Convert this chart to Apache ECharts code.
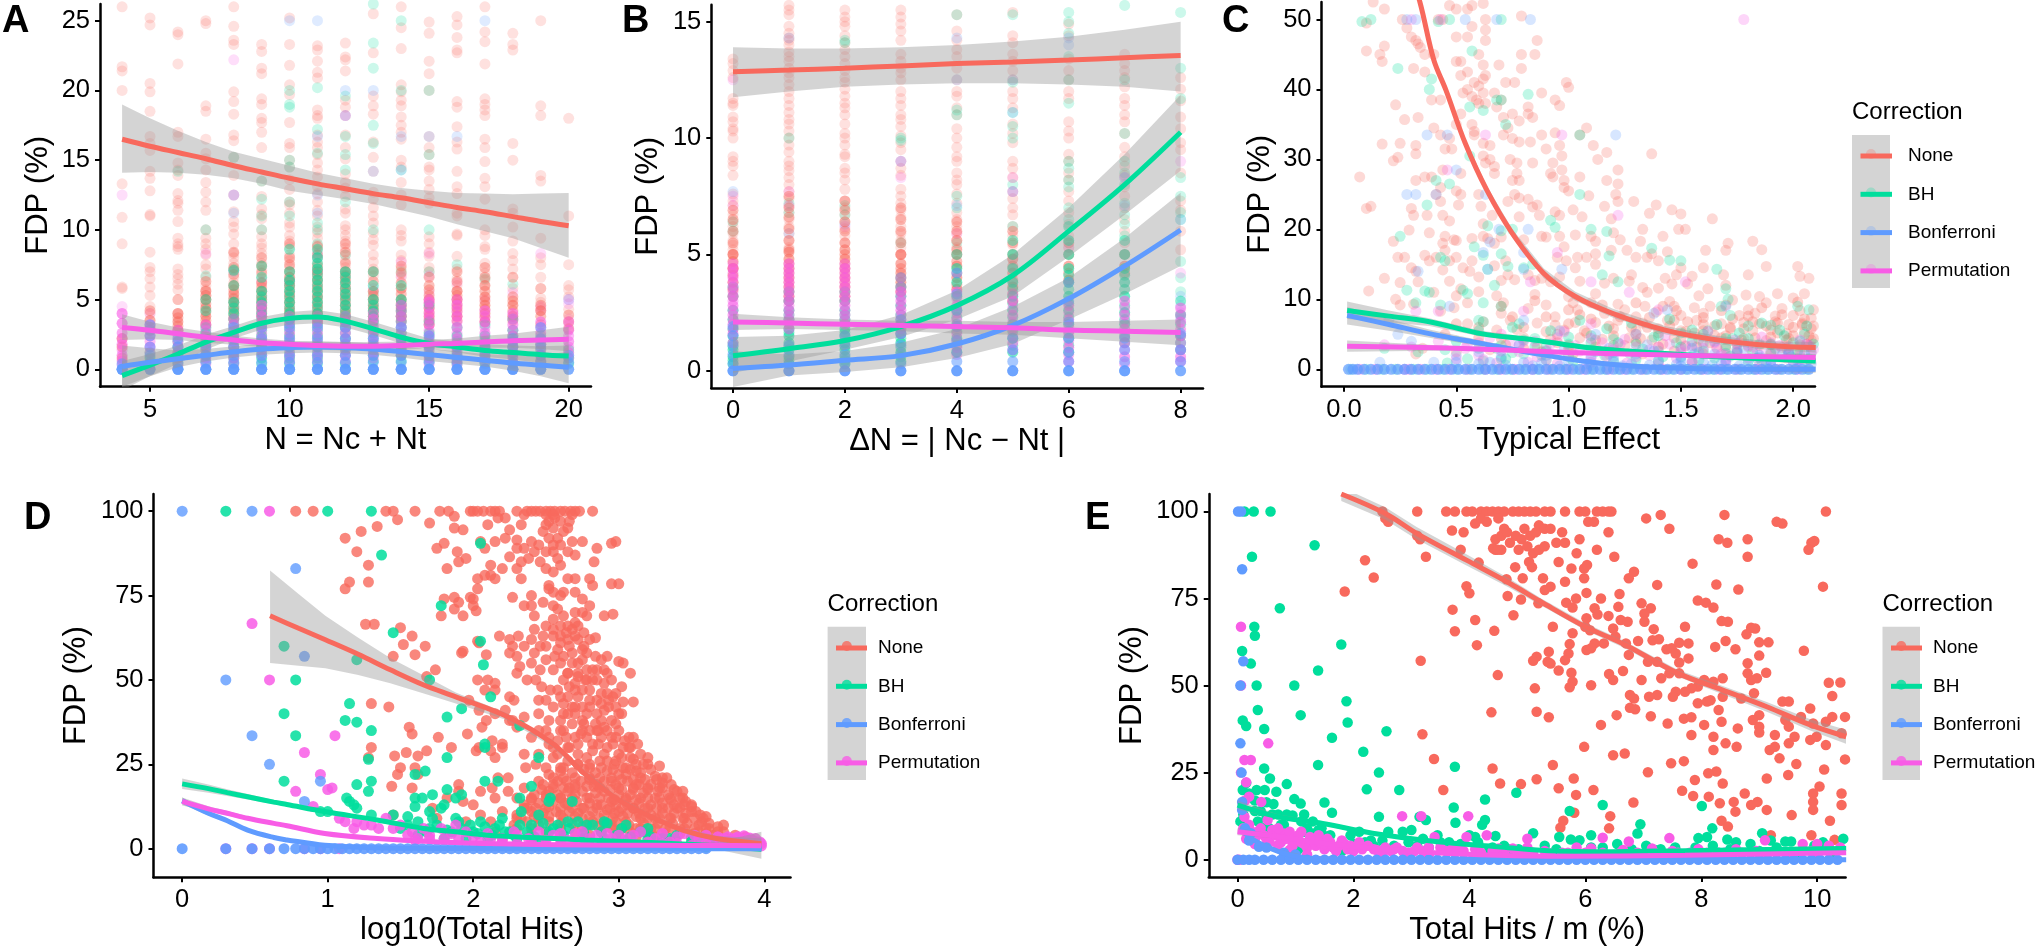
<!DOCTYPE html>
<html><head><meta charset="utf-8">
<style>html,body{margin:0;padding:0;background:#fff}#c{width:2040px;height:951px}</style>
<script src="https://cdn.jsdelivr.net/npm/echarts@6/dist/echarts.min.js"></script></head>
<body><div id="c"></div>
<script>
const methods=['None','BH','Bonferroni','Permutation'];
const colors=['#F8695D','#00DE9C','#5F9BFF','#F85CE6'];
// ---------- Panel A : columns N = 4..20
const aX=[4,5,6,7,8,9,10,11,12,13,14,15,16,17,18,19,20];
const aNoneSparse=[[26,21.7,21.4,20,13.3,10.9,9,5.9,5.8],[25.2,24.7,20.5,19.9,18.5,16.7,16.2,15.7,14.2,13.7,12.8,11.1,11,8.4,7.3,7,6.5,5.9,5.3,4.5,4],[24.2,24,21.9,17,16.7,14.8,14.3,13.9,12.6,12.1,11.9,11.4,10.6,9.4,9,8.8,8.6,7.2,6.8,6.5,6.1,5.7,4],[25,24.8,18.9,18.5,16.5,15.5,15.1,14.3,13.4,12.7,12,11.4,10,9.4,9,8.6,8.2,7.5,7.2,6.6,6,5.7,5.3],[26,24.6,23.6,23.3,19.9,19.2,18.3,16.8,16.4,15.2,13.9,12.5,11.3,10.6,10.2,9.7,9,8.3,8,7.6,7.1,6.6,6.2],[23.3,22.8,21.6,21.2,19.4,19,18,17.7,17,15.9,13.5,12.4,11.5,11.1,10.8,10,9.5,9,8.7,8.3,7.6,7.1,6.5],[25.2,23.3,21.8,20.4,19.7,17.7,16.2,15.9,15,14.5,13.6,12.9,12,11.8,11.2,10.5,10.2,9.6,9.2,8.8,8.2,7.8,7.3],[23.2,22.9,22.1,21.3,20.9,18.6,18.2,18,16.8,16.3,15.9,15.4,14.8,14.3,13.8,13.1,12.6,12,11.4,11,10.2,9.8,9.4,8.9,8.5,8,7.6,7.2],[23.4,22.4,22.2,21.4,19.3,18.8,18.2,16.8,15.9,15.1,14,13.4,13,12.4,11.5,11.2,10.3,10,9.6,9.2,8.7,8.2,7.8,7.3],[25.5,22.7,19.6,18.9,18.3,16.3,15.2,14.2,12.7,12.2,11.6,11,10.5,9.8,9.3,8.9,8.2,7.7,7.2,6.7],[26,24.5,23,20.4,19.9,19.3,18.9,18.1,17.5,17,16.5,15,14.5,13.4,12.5,11.8,10,9.6,9.2,8.2,7.8,7.2,6.6],[24.9,24.1,22.1,21.2,20,16.7,15.9,15.4,14.5,14.3,13.5,12.9,12.3,11.9,9.5,9,8.4,8.1,7.3,7],[25.3,24.7,23.8,22.9,22.7,19.2,18.8,17.4,16.3,15.8,14.2,13.1,12.6,11.2,11,9.7,9.6,8.1,7.2,6.5,6,5.6],[26,24.2,23.5,21.9,19.4,19,18.6,18.2,16.5,15.9,14.9,13.7,13.1,12.2,10,9.6,8.8,8.6,7.6,6.9,6.4],[24.1,23.3,22.9,16.2,15,11.5,11.2,10.2,9.2,8.3,7.8,7.2,5.8],[25,18.9,18.2,13.9,13.5,9.4,8,7.5,6.6,5.1,4.8,4.4],[18,11,7.5,6,5.7,5.2,4.3]];
const aBhSparse=[[],[],[14.2],[10,6.7],[15.2,7.2,5],[13.5,12.2,11,10],[20,19,18.8,15,14.5,12,11,7,6.3],[20.2,17.2,15.5,10.5,10,9],[19.6,16.7,15.4,14.3,12,8.2,6.8],[26.2,23.4,21.6,17.5,16.2,10,5.5],[25,20,14.3,7],[20,15.4,10,7],[7.5],[6.5],[6.1],[],[]];
const aBonfSparse=[[],[],[],[],[12.5,11.2,7],[],[25,6.3],[25,16.7,12.5,11.2,8.3],[20,18.2],[20,14.2],[16.7,14.3],[16.7],[16.7],[25],[],[],[5]];
const aPermSparse=[[12.5,4.5,4,3.3],[4],[],[8.3],[22.2,12.5],[6.3],[],[8,7],[18.2],[5.8],[7.7,6.7],[8.3,6.7,5.5],[6.2,5],[5],[5.5],[8.3,4.5,4.2],[5,4.7,3.6,3.2]];
const aNoneDense=[[2.2,1.6,.8],[3.5,2.8],[4,3.4,2.8],[5.6,5,4.4,3.8,3.2],[6,5.4,4.8,4.2,3.6],[6.2,5.6,5,4.4,3.8],[6.6,6,5.4,4.8,4.2,3.6],[7,6.4,5.8,5.2,4.6,4,3.4],[7,6.4,5.8,5.2,4.6,4,3.4],[5.6,5,4.4,3.8],[5.8,5,4.4,3.8],[5,4.4,3.8,3.2],[5.6,5,4.4,3.8],[6,5.2,4.6,4,3.4],[4.6,3.8],[4.2],[]];
const aNoneFill=[[],[4.2,3],[5,3.7,3.1],[6.3,5.3,4.7,4.1,3.5],[8.4,7.3,6.8,5.7,5.1,4.5,3.9],[8,7.4,6.9,5.9,5.3,4.7,4.1],[9,8,7.5,7,6.3,5.7,5.1,4.5,3.9],[8.8,8.2,7.4,6.7,6.1,5.5,4.9,4.3,3.7],[9,8.4,7.6,6.7,6.1,5.5,4.9,4.3,3.7],[7,6.3,5.3,4.7,4.1,3.5],[7.4,6.9,6.2,5.4,4.7,4.1,3.5],[6.6,6,5.7,5.3,4.7,4.1,3.5],[7,6.3,5.3,4.7,4.1,3.5],[7.3,6.6,5.6,4.9,4.3,3.7],[6.6,5.2,4.9,4.2,3.5],[5.8,4.6,3.8,3.2],[3.9,3.4,2.9]];
const aBhDense=[[],[.8],[1.6,.8],[2.6,1.8,1],[4.8,4,3.2,2.4,1.6,.8],[5.6,4.8,4,3.2,2.4,1.6,.8],[6.4,5.6,4.8,4,3.2,2.4,1.6,.8],[8,7.2,6.4,5.6,4.8,4,3.2,2.4,1.6,.8],[7,6.2,5.4,4.6,3.8,3,2.2,1.4],[5,4.2,3.4,2.6,1.8,1],[5,4.2,3.4,2.6,1.8,1],[2.6,1.8,1],[2.4,1.6,.8],[2.4,1.6,.8],[2.8,2,1.2],[1.8,1],[.8]];
const aBhFill=[[],[.4,1.2],[1.2,.4,2],[2.2,1.4,.6,3,4.2,5],[4.4,3.6,2.8,2,1.2,.4,6,7.1],[5.2,4.4,3.6,2.8,2,1.2,.4,6.6,7.4],[6,5.2,4.4,3.6,2.8,2,1.2,.4,7,8.6],[7.6,6.8,6,5.2,4.4,3.6,2.8,2,1.2,.4,8.6],[6.6,5.8,5,4.2,3.4,2.6,1.8,1,.4],[4.6,3.8,3,2.2,1.4,.6,6,7],[4.6,3.8,3,2.2,1.4,.6,6],[2.2,1.4,.6,3.4,4.6],[2,1.2,.4,3],[2,1.2,.4,3.2],[2.4,1.6,.4,3.6],[1.4,.6,2.4],[.4,1.4]];
const aPermDense=[[4,3.3,2.6,1.8,1,.6],[3.2,2.4,1.6],[2.8,2,1.2],[3.2,2.4,1.6,.8],[3.2,2.4,1.6,.8],[4.6,3.8,3,2.2,1.4],[3.4,2.6,1.8,1],[3.4,2.6,1.8,1],[3.4,2.6,1.8,1],[3.6,2.8,2,1.2],[4.6,3.8,3,2.2,1.4],[4.8,4,3.2,2.4,1.6,.8],[4.6,3.8,3,2.2,1.4,.6],[4.2,3.4,2.6,1.8,1],[4,3.2,2.4,1.6,.8],[3.4,2.6,1.8,1],[2.8,2,1.2]];
const aPermFill=[[2.2,1.4,.3],[2.8,2,1.2,.4],[2.4,1.6,.8,.3],[2.8,2,1.2,.4],[2.8,2,1.2,.4,3.6],[4.2,3.4,2.6,1.8,1],[3,2.2,1.4,.6,3.8],[3,2.2,1.4,.6,3.8],[3,2.2,1.4,.6,3.8],[3.2,2.4,1.6,.8,4],[4.2,3.4,2.6,1.8,1],[4.4,3.6,2.8,2,1.2,.4,5],[4.2,3.4,2.6,1.8,1,.3,5],[3.8,3,2.2,1.4,.6],[3.6,2.8,2,1.2,.4],[3,2.2,1.4,.6],[2.4,1.6,.8,3.4]];
const aBonfDense=[[0,0,0,0,.4],[0,0,0,.5,1,1.6,2.4,3.2],[0,0,0,0,.5,1,1.6,2.2],[0,0,0,0,.5,1,1.6],[0,0,0,0,.5,1,1.6,2.2,3],[0,0,0,0,.5,1,1.6,2.2,3],[0,0,0,0,.5,1,1.6,2.2,3,3.6],[0,0,0,0,.5,1,1.6,2.2,3],[0,0,0,0,.5,1,1.6,2.2,3],[0,0,0,0,.5,1,1.6,2.2],[0,0,0,0,.5,1,1.6,2.2,3],[0,0,0,0,.5,1,1.6,2.4],[0,0,0,0,.5,1,1.6],[0,0,0,0,.5,1,1.6],[0,0,0,0,.5,1,1.6,2.2],[0,0,0,.5,1,1.6,2.2,3],[0,0,.5,1]];
const aLineX=[4,5,6,7,8,9,10,11,12,13,14,15,16,17,18,19,20];
const aNoneL=[16.5,16,15.55,15.1,14.6,14.15,13.7,13.3,12.95,12.6,12.3,11.95,11.6,11.3,10.95,10.6,10.3];
const aNoneHi=[19,18,17.1,16.3,15.6,15.1,14.6,14.1,13.7,13.3,13,12.8,12.65,12.6,12.55,12.6,12.65];
const aNoneLo=[14.1,14.15,14.1,13.95,13.7,13.3,12.8,12.5,12.2,11.85,11.4,10.95,10.4,9.9,9.4,8.7,8];
const aBhL=[-.45,.3,1.1,1.95,2.65,3.3,3.65,3.75,3.45,2.9,2.3,1.85,1.6,1.35,1.2,1.05,.95];
const aBhHi=[.6,1.1,1.7,2.5,3.1,3.75,4.1,4.25,3.95,3.4,2.8,2.2,2,1.8,1.7,1.65,1.7];
const aBhLo=[-1.5,-.5,.4,1.4,2.2,2.85,3.2,3.3,3,2.45,1.85,1.45,1.2,.9,.7,.45,.2];
const aBfL=[.2,.5,.75,1,1.25,1.45,1.55,1.6,1.55,1.45,1.25,1.05,.85,.65,.45,.3,.15];
const aBfHi=[1.7,1.5,1.35,1.45,1.65,1.85,1.95,2,1.95,1.85,1.65,1.45,1.3,1.1,1,1,1.25];
const aBfLo=[-1.25,-.5,.15,.55,.85,1.05,1.15,1.2,1.15,1.05,.85,.6,.4,.2,-.1,-.5,-1];
const aPmL=[3,2.8,2.55,2.3,2.1,1.9,1.8,1.7,1.65,1.65,1.7,1.8,1.85,1.95,2.05,2.1,2.15];
const aPmHi=[3.95,3.4,3,2.7,2.4,2.2,2.05,2,1.95,1.95,2,2.1,2.2,2.4,2.55,2.8,3.05];
const aPmLo=[2.1,2.15,2.1,1.9,1.75,1.6,1.5,1.4,1.35,1.35,1.4,1.5,1.5,1.55,1.55,1.45,1.3];
// ---------- Panel B : columns dN = 0..8
const bX=[0,1,2,3,4,5,6,7,8];
const bNoneSparse=[[13.4,13.2,12.9,12.6,11.7,11.5,11.4,10.9,10.7,10.4,10.3,10,9.2,9,8.8,8.4,7.6,7.3,7.1,6.7,6.4,6.2,5.9,5.6,5.4,5.2],[15.7,15.5,15.3,14.8,14.5,14.3,14.2,14,13.7,13.5,13.3,13,12.8,12.6,12.3,12,11.7,11.4,11.1,10.8,10.6,10.3,10,9.7,9.4,9,8.8,8.6,8.3,8,7.7,7.4,7.1,6.8,6.5,6.2,5.9,5.6,5.3],[15.8,15.5,15.2,15,14.8,14.4,14.1,13.8,13.5,13.2,12.9,12.6,12.4,12.1,11.8,11.5,11.3,11,10.6,10.2,10,9.7,9.3,9.2,8.7,8.5,8.2,7.8,7.3,7,6.7,6.4,6.1,5.8,5.5],[15.8,15.5,15.2,14.9,14.6,14.2,13.6,13.3,13,12.8,12.5,12,11.7,11.4,11,10.8,10.5,10.1,9.8,9.5,9,8.7,8.4,7.8,7.5,7.2,6.9,6.6,6.2,5.9,5.6,5.3],[15.8,15.3,14.6,14.2,13.8,13.5,13,12.5,12,11.8,11.3,11,10.4,10,9.6,9.2,9,8.5,8.2,8,7.6,7.2,6.8,6.5,6.2,5.9,5.6,5.3],[15.8,15.4,14.4,14.1,13.6,13.3,12.9,12.5,12,11.7,11.3,10.6,10.2,9.8,9,8.7,8.3,7.7,7.4,7,6.7,6.2,5.8,5.4],[15.8,14.9,14.4,13.4,12.9,12.5,12,11.7,10.7,10.3,10,9.3,9,8.5,8.2,7.7,7.3,6.8,6.3,5.8,5.3],[13.6,13.2,12.9,12.6,12.2,11.7,11.4,11,10.7,10.2,9.6,9.2,8.8,8.4,7.9,7.5,7,6.5,6,5.5],[12.6,12.1,11.6,10.9,10.4,9.8,9.5,8.5,7.3,6.9,6,5.2]];
const bBhSparse=[[6.4,6],[10,7.2,6.8],[14.2,14.1,7.1,6.7],[10,9.9,5.5],[15.3,11.2,11,7.5,7,5.5],[15.3,12.4,11.1,10.5,10,8,6.2],[15.4,15,14.5,13.5,12.5,11.5,9,8.7,8.2,7.9,7,6.5],[15.7,12.5,10.2,9,8.5,8,7.2,6.7,6.3,5.8],[15.4,13,11.7,8.3,7.5,6.8,6.5,4.7,4,3.4]];
const bBonfSparse=[[7.7],[14.3,5.9],[6.3],[9],[14.3,12.5,7.1],[12.5,11.1,7.7],[14.3,14],[8.3,7.1],[6.5,3.2,2.8,2.2,1.2,.9]];
const bPermSparse=[[12.5,7.5,7.1],[7.7,7.1],[6.2],[9,8.3],[5.9],[8.3,7.7],[5.3],[8.3],[9,4.2,2.5,2.3,1.7,.6]];
const bNoneDense=[[5,4.7,4.4,4.1,3.8,3.5],[5.1,4.8,4.4,4,3.6,3.2],[5.2,4.8,4.4,4,3.6,3.2],[5,4.6,4.2,3.8,3.4],[5,4.5,4,3.5],[4.8,4.2,3.6,3],[4.5,3.9],[4.5],[]];
const bNoneFill=[[6.9,6.5,6,5.5,5,4.4,3.2],[7.5,7,6.6,6.1,5.6,5.2,4.6,4.2,3.8,3.4,3],[7.3,6.9,6.4,6,5.5,5,4.6,4.2,3.8,3.4,3],[7,6.5,6,5.5,5,4.4,4,3.6],[6.4,6,5.6,5.2,4.7,4.2,3.7],[6,5.5,5,4.5,3.9,3.3],[5.5,5,4.2],[5,4.2],[]];
const bBhDense=[[2.6,2.2,1.8,1.5,1.2,.9,.6,.3],[3,2.6,2.2,1.8,1.5,1.2,.9,.6,.3],[3,2.6,2.2,1.8,1.5,1.2,.9,.6,.3],[3.6,3.2,2.8,2.4,2,1.6,1.2,.8,.4],[4.4,3.8,3.2,2.6,2,1.4,.8],[5,4.4,3.8,3.2,2.6,2,1.4,.8],[5.6,5,4.4,3.8,3.2,2.6,2,1.4,.8],[5,4.4,3.8,3.2,2.5,2,1.2],[2.4,1.5]];
const bBhFill=[[3.6,3.2,.45,1.05],[3.4,.45,1.05,1.65,2.4],[3.4,.45,1.05,1.65,2.4],[4,.6,1,1.4,1.8],[5,1.1,1.7,2.3],[5.6,1.1,1.7,2.3,2.9,3.5],[6.2,1.1,1.7,2.3,2.9,3.5,4.1],[5.6,1.5,2.2,2.8,3.5,4.1],[.9,1.2,2,3]];
const bPermDense=[[4.4,4,3.6,3.2,2.8,2.4,2,1.6,1.2],[4.6,4.2,3.8,3.4,3,2.6,2.2,1.8],[4.4,4,3.6,3.2,2.8,2.4,2],[3.4,3,2.6,2.2,1.8],[3.4,2.8,2.2,1.6,1],[3,2.4,1.8,1.2],[2.8,2.2,1.6,1,.4],[3,2.4,1.8,1.2,.6],[2.7,2.1,1.5,.9,.4]];
const bPermFill=[[4.6,4.2,3.8,3.4,3,2.6,2.2,1.8],[4.4,4,3.6,3.2,2.8,2.4,2],[4.6,4.2,3.8,3.4,3,2.6,2.2],[4,3.6,3.2,2.8,2.4,2,1.6],[3.1,2.5,1.9,1.3,.7],[3.3,2.7,2.1,1.5,.9],[2.5,1.9,1.3,.7],[2.7,2.1,1.5,.9,.3],[2.4,1.8,1.2,.6]];
const bBonfDense=[[0,0,0,.3,.7,1.1,1.5,1.9],[0,0,0,.3,.7,1.1],[0,0,0,.3,.7,1.1,1.5],[0,0,0,.3,.7,1.1,1.6,2.2],[0,0,0,.4,.8,1.3,1.9,2.6,3.3,4.2],[0,0,0,.4,.9,1.4],[0,0,0,.4,.8,1.4,2.1,3,3.8],[0,0,0,.4,.9,1.4],[0,0,.4,.9,1.6]];
const bLineX=[0,1,2,3,4,5,6,7,8];
const bNoneL=[12.85,12.92,13,13.1,13.2,13.27,13.35,13.45,13.55];
const bNoneHi=[13.9,13.85,13.85,13.9,14,14.15,14.35,14.65,15];
const bNoneLo=[11.75,12,12.2,12.3,12.35,12.35,12.3,12.2,12];
const bBhL=[.65,.95,1.3,1.9,2.8,4.1,6,8,10.25];
const bBhHi=[1.45,1.5,1.75,2.4,3.45,5,7,9.3,11.85];
const bBhLo=[-.1,.4,.9,1.45,2.2,3.2,4.9,6.7,8.6];
const bBfL=[.1,.25,.45,.65,1.15,1.95,3.1,4.5,6.05];
const bBfHi=[.85,.7,.85,1.2,1.8,2.75,4,5.7,7.65];
const bBfLo=[-.7,-.2,-.05,.15,.55,1.15,2.2,3.3,4.5];
const bPmL=[2.1,2.05,2,1.95,1.9,1.85,1.75,1.7,1.65];
const bPmHi=[2.45,2.3,2.2,2.15,2.15,2.1,2.1,2.15,2.2];
const bPmLo=[1.75,1.8,1.75,1.7,1.6,1.55,1.4,1.25,1.1];
// ---------- Panel C : flat x,y lists
const cNone=[.13,52.5,.18,51.5,.1,49.5,.1,45.5,.16,45,.17,44,.18,46.2,.26,50,.28,48.8,.3,47.5,.32,47,.33,46.5,.34,46,.36,45,.42,50,.44,50,.47,52,.5,51.5,.55,51.5,.57,52,.62,52.3,.63,50,.57,49,.5,47.5,.55,47.5,.63,48.5,.63,47,.79,50.5,.86,47,.79,45,.85,45,.4,45,.5,44,.52,44,.6,45,.62,43.5,.69,43.5,.79,43,.31,43,.36,42.5,.52,42,.55,42.5,.63,42,.62,41.5,.72,41,.76,41,.58,41,.55,40,.6,40.5,.53,39.5,.62,39.5,.67,39.5,.88,39.5,.99,41,1,40.3,.59,38.5,.6,38,.39,38.5,.43,38.5,.57,39,.63,38,.7,38.5,.82,37.5,.94,38.5,.96,37.7,.23,37.8,.52,36.5,.68,37.5,.75,36.5,.78,35.5,.82,36.5,.84,36,.27,35.7,.33,36,.71,36,.73,34.5,.5,35,.57,35,.58,34,.4,34.5,.43,33.5,.47,33,.58,33.5,.71,33.5,.75,33,.78,32.5,.83,32.5,.88,33.5,.94,33.8,1.05,33.5,1.08,34.5,.17,32.2,.25,32.3,.32,32,.45,31.5,.48,31.5,.62,32.3,.65,32,.9,31.5,.96,32,1.11,32,.62,30.5,.65,30,1.17,31,1.37,30.8,.22,29.8,.24,30.3,.32,30.8,.63,29.5,.67,29,.74,30,.77,29.5,.93,29.5,.97,30.5,1.13,30,.44,28.5,.52,28,.67,28,.77,28,.84,29.5,.92,28,.97,28.5,.07,27.5,.32,27,.36,27.5,.39,27.5,.43,26,.75,27,.78,27,.93,27.5,.98,27,1.05,27.5,1.17,27,1.22,28.5,.41,25,.5,25.5,.52,25,.6,25,.76,25,.78,24.5,.82,24.3,.98,26,1,25.5,1.09,24.8,1.22,26.5,1.21,25,.1,23,.12,23.3,.3,23,.43,24,.51,23.5,.61,23.3,.66,22,.73,24,.84,23.2,.86,23.5,.94,22.5,1.02,22.8,1.16,23.3,1.22,24,1.29,24,1.39,23.5,.31,22,.37,22,.44,22,.62,20.8,.78,21.8,.87,22,.96,22,1.06,21.8,1.19,21.5,1.36,22.3,1.46,22.8,1.5,22.2,.47,21.2,.62,19,.29,19.9,.38,19.5,.45,19,.49,18.5,.5,18.4,.57,18.7,.64,18.7,.7,18.9,.8,18.5,.88,19,.9,18.9,.96,19,1.03,19.2,1.1,19,1.12,18.3,1.2,19.5,1.23,18.5,1.32,18.3,1.33,20,1.42,19,1.49,20,1.52,20,1.64,21.5,.22,18.3,.44,18,.45,17,.67,18,.98,17.5,1.04,16,1.08,16,1.12,16.5,1.19,17,1.26,17,1.37,16.5,1.44,16.8,1.61,17,1.7,17,1.71,18,1.82,18.3,1.86,17.1,.24,16,.27,16,.36,16.3,.38,15.5,.41,16,.47,15.5,.5,16,.53,14.5,.57,15.5,.67,14.8,.72,15.5,.95,16,.99,15.5,1.03,14.5,1.12,15,1.3,16,1.35,16,1.4,15.5,1.5,14.5,1.6,14.5,1.69,13.5,1.88,14.7,2.02,14.7,.3,14.5,.32,14,.44,14.2,.56,14,.6,13.2,.73,13.5,.82,13.5,.85,12.7,.88,13,.96,13.2,1.2,13,1.28,13.5,1.33,11.7,1.43,13,1.48,13.5,1.55,13.3,1.8,13.5,2.03,13.3,2.07,13,.18,13,.25,12.4,.33,12.5,.47,12.6,.52,11.5,.7,12.7,.76,12.8,.92,12.5,1.05,12.6,1.16,12.3,1.27,12.6,1.4,11.6,1.46,12.2,1.53,12.2,1.62,11.5,1.7,12,2.1,11.5,.11,11.2,.23,10,.4,11,.5,10.5,.6,11.1,.68,10.5,.85,10.7,1,10.4,1.12,10.8,1.35,11,1.45,9.7,1.58,10.5,1.73,9.9,1.79,10.6,1.85,10.4,1.93,10.8,2,10.2,2.05,10.8,.25,9.2,.31,9.3,.49,8.8,.55,9.5,.71,9.5,.9,9.2,1.02,9.5,1.1,9.5,1.22,9.3,1.34,9,1.47,9,1.56,8.8,1.63,9,1.7,9.2,1.8,8.5,1.88,9.5,1.95,8.7,2.03,8.4,2.09,8.5,.43,8.3,.7,8,.82,8.7,.94,7.5,1.04,8.5,1.16,8,1.25,8.5,1.3,7.5,1.39,8.2,1.5,7.7,1.6,8,1.76,7.7,1.83,8,1.92,7.6,2,7.7,2.08,7.3,.55,6.5,.62,6.8,.74,7,.86,6.6,.94,6.3,1.03,6.7,1.12,6.7,1.22,7,1.33,6.6,1.44,7,1.57,7,1.68,6.5,1.78,6.7,1.85,6.5,1.92,6.8,1.98,6.4,2.04,6.6,2.09,6.2,.68,5.6,.77,5.7,.9,5.4,.98,5.6,1.07,5.5,1.2,5.8,1.3,5.5,1.4,5.8,1.5,5.5,1.6,5.5,1.72,5.8,1.82,5.5,1.9,5.6,1.97,5.1,2.05,5.3,2.1,5.5,.8,4.5,.92,4.3,1.05,4.5,1.15,4.3,1.27,4.5,1.37,4.2,1.47,4.5,1.58,4.3,1.68,4.5,1.78,4.4,1.88,4.1,1.98,4.4,2.08,4.2,.86,3.2,1,3.4,1.12,3.2,1.25,3.4,1.4,3.2,1.52,3.3,1.66,3.1,1.8,3.2,1.95,3.1,2.07,3.3,.35,3,.5,2.5,.65,2.8,.32,2.2];
const cNoneMass=[.7,9,.75,7.5,.8,6,.85,9.8,.9,7.5,.95,5,1,8.5,1,6.5,1.05,7.8,1.08,5.2,1.1,7.2,1.15,9.2,1.18,6.2,1.2,4.8,1.23,7.5,1.28,6,1.3,9.5,1.32,4.4,1.36,7.4,1.4,5.2,1.42,9,1.45,6.2,1.48,8.4,1.5,4.2,1.53,6.8,1.56,5.2,1.6,7.4,1.63,3.8,1.65,6.2,1.68,8.4,1.7,4.8,1.73,7.2,1.75,3.6,1.78,5.8,1.8,7.6,1.83,4.5,1.86,8.8,1.88,6.2,1.9,3.5,1.93,5.2,1.95,7.8,1.97,4.2,2,6,2.02,9.6,2.03,3.5,2.05,7.2,2.07,4.8,2.08,5.8,2.1,8.5,2.1,3.8,.6,4.5,.72,3.5,.88,2.5,1.02,2.2,1.17,2.6,1.33,2.2,1.47,2.6,1.6,2.2,1.75,2.4,1.9,2.2,2.03,2.4,1.3,4,1.35,6,1.42,3.6,1.47,7,1.52,5.4,1.57,3.2,1.6,6.4,1.65,4.8,1.7,3,1.72,6,1.77,4.2,1.82,6.8,1.85,3.4,1.9,4.6,1.93,6.6,1.97,3,2,4.8,2.04,6.4,2.06,3.6,2.09,4.4,1,3,1.12,4.2,1.2,3.4,.95,3.8,.8,3,.7,4.4,.6,6,.5,6.5,.45,5];
const cBh=[.08,49.7,.12,50,.42,49.7,.47,50,.7,50,.24,43,.57,45.5,.39,41.5,.38,40,.7,38.5,.68,38.5,.82,39.3,.56,37.5,.62,37,.72,35,1.05,33.5,.56,30.5,.41,27,.47,26.5,.37,23.5,1.05,25,.64,20.5,.7,19.8,.75,20,.92,21.3,.94,20.3,1.1,20,1.17,19.7,.25,19,.58,17.5,.43,16,.45,15.5,.62,16.3,.64,14.3,.7,16.5,.67,12,.73,14.7,.8,14.5,.84,15,1.18,16.2,1.37,17.3,1.45,15.6,1.5,15.5,1.66,14.3,1.15,13.5,1.22,12.5,1.7,11.5,.28,11.3,.36,11.2,.38,11,.53,11.3,.55,10.8,.43,9.2,.62,9.5,.7,9,.32,9.5,1.71,10,2.07,8.5,1.68,9,2.02,9,.6,7,.62,6.8,.78,6.5,1.72,7.7,1.8,6.2,1.9,6.3,1.62,5.5,1.5,5.2,.18,3,.33,2.5,.45,2.8,.75,2.4,.85,4.4,.9,3.2,1,3.6,1.1,4.8,1.2,4.3,1.3,5,1.38,4.6,1.48,3.8,1.6,3.7,1.73,4.4,1.85,3.6,2,3.8,2.05,5,.55,1.5,.7,3.4,.8,2.2,1,1.8,1.12,2.5,1.27,2.3,1.4,2.6,1.56,2.2,1.7,2.3,1.9,2.4,2.08,2.4,.46,.9,.62,1.2,.9,1.3,1.2,1.1,1.55,1,1.8,1.2,2.02,1.5];
const cBhMass=[.5,4,.6,5.5,.68,3,.75,6,.85,3.2,.92,5.5,1,4.6,1.05,7,1.1,2.8,1.17,5.8,1.22,3.8,1.28,6.6,1.33,2.9,1.4,4.8,1.45,7.2,1.5,3.2,1.55,5.6,1.6,2.6,1.66,6.4,1.7,3.4,1.76,5.2,1.82,2.4,1.86,6.6,1.92,3,1.96,4.8,2.02,2.6,2.06,6.2,2.09,3.6,.72,1.5,.88,2,1.02,1.2,1.16,2,1.3,1.4,1.42,1.8,1.58,1.3,1.72,1.9,1.86,1.2,1.99,1.8,1.5,1.8,1.55,4,1.6,5,1.65,1.6,1.7,4.4,1.75,2.8,1.8,4.4,1.84,1.6,1.9,3.6,1.94,5.6,1.98,2.2,2.03,4,2.07,1.5,2.1,5,1.1,3.8,1.2,2.4,1.3,3.6,1.4,1.2,.9,2.6,.8,4.2,.7,1.5,.6,3];
const cBonf=[.28,50,.32,50,.54,50,.68,50,.83,50,.37,33.5,.46,33.5,1.21,33.5,.5,28.5,.28,25,.32,25,.41,25,.63,25,.69,20,.82,20,.65,18.2,.62,16.7,.8,16.7,.8,14.3,.64,14.3,.97,14.3,.33,14,.2,7.1,.24,5,.3,4,.16,1,.4,1,.5,2,.6,2.5,.47,9,.8,7,.96,5.5,1.12,5,1.38,8,1.44,8.5,1.7,9,1.65,4,1.35,3.5,1.2,1.8,1.5,1.6,1.85,1.7,2.02,1.3];
const cBonfMass=[.65,1,.78,3.5,.88,.9,.98,2.8,1.08,.8,1.18,3,1.28,.8,1.38,2.6,1.48,.7,1.58,2.4,1.68,.8,1.78,3,1.88,.7,1.98,2.5,2.08,.8,.72,.6,.84,.5,.96,.5,1.1,.6,1.24,.5,1.36,.6,1.5,.5,1.64,.6,1.76,.5,1.9,.6,2.04,.5,1.5,1.2,1.55,3,1.6,1,1.65,2.2,1.7,1.2,1.75,2.4,1.8,1.2,1.85,2,1.9,1,1.95,2,2,1.2,2.05,2.2,2.1,1,1.2,1.3,1.3,2.2,1.4,1.2,1.1,1.8,1,1.2,.9,2,.8,1,.7,1.8,.6,.8,.5,1];
const cPerm=[.3,50,.43,50,1.78,50,.63,33.5,.97,33.5,.46,28.5,1.22,22,.95,16.7,.83,12.5,1.1,12.5,1.27,11,1.52,12.5,.42,8.3,.32,8.3,.18,3.5,.3,3.2,.42,4,.54,3,.65,4.5,.74,3.8,.8,8.3,.85,4,.95,4.5,1.03,3.4,1.1,6.5,1.15,3.8,1.25,4.3,1.3,3.2,1.4,8.5,1.45,3.6,1.52,3.4,1.6,4,1.66,3,1.74,4.2,1.82,3.2,1.9,3.8,1.98,3.2,2.06,3.6,2.09,2.8,.6,2,.78,2.5,.9,2.7,1,2,1.18,2.2,1.36,2,1.5,2.4,1.7,2.1,1.88,2.2,2.03,1.9];
const cPermMass=[.55,3.6,.62,1.4,.7,5,.78,3.4,.86,1.8,.92,3.6,.98,5.4,1.05,2.6,1.1,4.4,1.17,1.8,1.23,3.6,1.3,5,1.36,2.8,1.43,4.8,1.48,1.6,1.55,3.4,1.62,5.4,1.68,2.2,1.75,3.6,1.8,1.6,1.86,4.6,1.92,2.8,1.97,1.6,2.03,4.2,2.08,2.4,.68,.9,.82,1,.95,.8,1.1,1,1.26,.9,1.4,.8,1.55,1,1.7,.9,1.85,.8,2,1,1.5,2.8,1.55,1.2,1.6,3,1.65,3.8,1.7,1.4,1.75,2.6,1.8,3.4,1.84,2.4,1.9,1.2,1.94,3.4,1.98,2.4,2.03,1.4,2.07,3.4,2.1,1.4,1.1,1.6,1.2,2.8,1.3,1.8,1.4,3.2,.9,1.4,.8,4,.7,2.6,.6,3.8,.5,1.5];
const cZeroBonf=[.02,.04,.06,.09,.12,.15,.18,.21,.24,.27,.3,.33,.36,.39,.42,.45,.48,.51,.54,.57,.6,.63,.66,.69,.72,.75,.78,.81,.84,.87,.9,.93,.96,.99,1.02,1.05,1.08,1.11,1.14,1.17,1.2,1.23,1.26,1.29,1.32,1.35,1.38,1.41,1.44,1.47,1.5,1.53,1.56,1.59,1.62,1.65,1.68,1.71,1.74,1.77,1.8,1.83,1.86,1.89,1.92,1.95,1.98,2.01,2.04,2.07,2.1];
const cZeroBh=[.03,.1,.17,.23,.31,.37,.44,.5,.56,.62,.68,.74,.8,.86,.92,.98,1.04,1.1,1.16,1.22,1.28,1.34,1.4,1.46,1.52,1.58,1.64,1.7,1.76,1.82,1.88,1.94,2,2.06];
const cZeroPerm=[.07,.14,.27,.29,.34,.41,.47,.55,.63,.7,.76,.84,.91,1,1.07,1.18,1.25,1.33,1.42,1.5,1.6,1.67,1.75,1.84,1.93,2.02];
const cLineX=[.3,.338,.4,.454,.54,.636,.75,.89,1.03,1.195,1.43,1.66,1.89,2.1];
const cNoneL=[56,52.5,44.2,39.9,32.3,25.6,19.4,13.7,10.4,8,5.6,4.2,3.4,3.1];
const cNoneHi=[56.5,53,44.8,40.5,32.9,26.2,20,14.4,11.1,8.7,6.2,4.8,4,3.9];
const cNoneLo=[55.5,52,43.6,39.3,31.7,25,18.8,13,9.8,7.4,5,3.6,2.8,2.4];
const cBhX=[.014,.2,.38,.61,.845,1.08,1.31,1.66,2.1];
const cBhL=[8.4,7.6,6.8,5.1,4.2,3.1,2.5,1.8,1.2];
const cBhHi=[9.7,8.4,7.3,5.5,4.5,3.5,2.8,2.1,1.7];
const cBhLo=[7.2,6.7,6.2,4.7,3.9,2.8,2.2,1.5,.7];
const cBfL=[7.7,6.4,5.1,3.7,2.3,1.1,.4,.05,0];
const cBfHi=[8.9,7.2,5.7,4.1,2.6,1.4,.7,.3,.4];
const cBfLo=[6.4,5.5,4.5,3.3,2,.8,.1,-.2,-.5];
const cPmX=[.014,.5,1,1.5,2.1];
const cPmL=[3.3,3,2.4,2,1.7];
const cPmHi=[4.1,3.3,2.7,2.3,2.2];
const cPmLo=[2.5,2.7,2.1,1.7,1.2];
// ---------- Panel D
const dNone=[.78,100,.9,100,1.4,100,1.45,100,1.6,100,1.77,100,1.83,100,1.98,100,2,100,2.03,100,2.07,100,2.12,100,2.15,100,2.18,100,2.3,100,2.37,100,2.4,100,2.43,100,2.46,100,2.5,100,2.53,100,2.56,100,2.6,100,2.63,100,2.67,100,2.7,100,2.73,100,2.82,100,1.12,92,1.23,94,1.34,95.5,1.48,97.5,1.7,96.5,1.93,94.5,1.87,98.5,1.87,95,2.1,96,2.17,98,2.22,98,1.75,89,1.8,90.5,2.05,91,2.08,89,2.15,91,2.22,92,2.25,94.5,2.3,91.5,2.33,96,2.35,99,2.4,91,2.45,90,2.5,96,2.55,95,2.58,92,2.62,94,2.68,91,2.75,91,2.95,90.5,2.98,91,2.85,89,2.83,85,1.2,88,1.28,84,1.89,88,1.9,85,1.95,86,1.82,83,2.25,86.5,2.3,89,2.35,89,2.38,86,2.42,88,2.46,85,2.5,88,2.55,88,2.6,90,2.65,88,2.7,87,2.3,83,2.33,85,2.12,84,2.2,83,2.03,80,2.08,81,2.12,81,2.15,80,2.5,83,2.55,82,2.6,84,2.65,80,2.7,80,2.33,80,2.8,80,2.82,78,2.95,78.5,3,78.5,1.12,77,1.15,79,1.28,79,2,74,2.03,77,1.98,74.5,2,72,1.8,74,1.87,74.5,1.9,73,1.87,71,1.78,69,1.93,69,2.02,70.5,2.27,74.5,2.4,75,2.35,72,2.4,72,2.48,73,2.55,72,2.6,75,2.62,76,2.7,76,2.75,74,2.52,77,2.55,76,2.8,72,2.7,70,2.75,70,2.78,69,2.9,69,2.96,69.5,2.42,69,2.5,66,2.55,68,2.6,66,2.65,66,2.48,63,1.26,66.5,1.32,66.5,1.5,65.5,1.58,63,1.52,60.5,1.6,57.5,1.67,60,1.45,57,1.74,53,1.68,51,2.04,61,2.03,61.5,1.92,58,1.93,58.5,2.09,57.5,2.18,63,2.25,62,2.27,60,2.31,63,2.35,60,2.25,58,2.3,57,2.4,62,2.42,58,2.5,60,2.55,63,2.6,61,2.65,62,2.7,63,2.75,59,2.8,62,2.84,62.5,2.5,56,2.56,57,2.62,57,2.68,55,2.75,56,2.32,54,2.4,55,2.46,53,2.55,53,2.65,52,2.72,52,2.78,53,2.85,53,2.92,52,3,55.5,3.03,55,3.08,52,2.3,52,2.37,50,2.43,50,2.47,48,2.53,47,2.62,50,2.7,49,2.77,50,2.82,50,2.9,49,2.98,46,3.02,48,2.15,49,2.03,50,2.1,50,2.08,47,1.97,44,2.15,47,2.25,45,2.28,44,2.45,44,2.5,44,2.55,42,2.65,45,2.75,47,2.8,47,2.88,46,2.93,44,3.03,43.5,3.1,43.5,1.85,30,1.3,43,1.42,42,2.04,41,2.09,38,2.15,40,2.22,41,2.25,38,2.3,36,2.27,38,2.35,39,2.45,40,2.52,38,2.6,38,2.65,40,2.7,42,2.75,38,2.8,42,2.85,40,2.9,41,2.95,38,3,40,1.56,36,1.58,34,1.76,33,1.96,34,2.06,36,2.04,30,2.13,32,2.2,31,2.4,33,2.5,35,2.58,32,2.62,35,2.7,33,2.75,35,2.85,35,2.95,33,3,35,3.07,33,3.1,33,3.03,30,3.13,31,1.3,30,1.28,27,1.46,27.5,1.54,28.5,1.62,27.5,1.68,29,2.02,29,2.12,29,2.2,30,2.15,27,2.35,28,2.45,28,2.55,30,2.65,30,2.72,28,2.82,31,2.9,28,3,28,3.07,30,1.5,24,1.48,22,1.6,24,1.62,22,1.9,19,2.17,21,2.24,21,2.36,24,2.43,25,2.5,24,2.6,24,2.72,25,2.8,25,2.92,26,3.03,24,3.17,25,3.12,23,1.44,18.5,1.58,18,1.9,17,2.05,17,2.13,18,2.24,17,2.35,18,2.45,20,2.55,19,2.62,21,2.7,19,2.8,21,2.85,19,2.95,21,3.05,22,3.15,21,3.25,21.5,3.3,21,1.72,12,1.82,15,1.93,14,2,13,2.15,15,2.3,15,2.4,15,2.5,16,2.6,15,2.7,16,2.8,15,2.9,17,3,18,3.1,18,3.2,18,3.3,18,3.4,17,2.05,10,2.2,11,2.35,12,2.5,12,2.65,13,2.75,12,2.85,13,2.95,14,3.05,15,3.15,15,3.25,15,3.35,15,3.45,13,1.45,10,1.75,9,1.95,8,2.12,8,2.3,9,2.45,9,2.6,10,2.75,9,2.9,10,3,11,3.1,12,3.2,12,3.3,12,3.4,12,3.5,11,3.58,9,2.15,5,2.4,6,2.6,6,2.8,7,2.95,7,3.05,8,3.15,9,3.25,9,3.35,9,3.45,9,3.55,7,3.62,6,3,5,3.15,6,3.25,6,3.35,6,3.45,6,3.55,5,3.65,4,3.75,3,3.85,3];
const dNonePile=[2.55,27,2.65,26,2.78,27,2.87,26,2.97,25,3.1,26.5,2.52,22,2.6,23,2.68,22.5,2.76,23.5,2.84,22.5,2.92,23,3,22,3.08,23.5,3.15,22.5,3.22,23.5,3.28,24.5,2.48,19,2.58,20,2.66,18,2.74,20,2.83,18.5,2.9,20,2.98,19,3.06,20,3.14,19,3.22,19,3.3,19.5,3.36,19,2.42,16,2.52,17,2.58,16,2.65,17,2.75,17,2.84,16.5,2.93,15,3,16,3.08,16,3.17,16.5,3.27,17,3.34,16,3.42,15,2.35,13,2.45,13.5,2.55,14,2.63,13.5,2.71,14,2.8,13.5,2.88,13,2.98,13,3.06,13,3.14,13.5,3.22,13,3.3,13.5,3.38,13,3.46,14,2.3,10,2.4,11,2.48,10.5,2.57,11,2.66,11,2.72,10.5,2.82,11,2.92,11.5,2.97,10.5,3.06,10.5,3.14,10.5,3.22,10,3.3,10.5,3.38,10.5,3.46,10.5,3.53,11,2.28,7,2.37,8,2.52,8,2.68,7.5,2.82,8,2.9,7.5,2.98,8,3.07,7,3.17,7.5,3.27,7.5,3.37,7.5,3.47,7.5,3.57,8,3.62,7.5,2.5,5,2.7,5,2.88,5,3.08,5,3.2,4.5,3.3,4.5,3.42,4.5,3.52,4.5,3.6,4.5,3.68,5,3.72,5,2.45,35,2.52,31,2.58,28,2.64,33,2.68,37,2.72,31,2.76,37,2.78,33,2.82,29,2.84,37,2.88,33,2.92,30,2.88,38,2.93,42,2.88,43,2.8,44,2.75,42,2.72,45,2.68,42,2.62,43,2.58,47,2.66,48,2.72,51,2.82,53,2.88,56,2.92,57,2.95,50,2.96,45,2.98,37,2.9,36,2.86,31,2.96,31,2.98,26,3.02,27,3.08,27,3.15,28,3.12,19,3.2,27,2.78,58,2.72,62,2.66,60,2.6,63,2.62,69,2.68,65,2.72,66,2.58,71,2.55,65,2.46,60,2.42,65,2.52,78,2.58,86,2.55,90,2.52,92,2.48,94,2.52,97,2.56,98,2.6,97,2.65,95,2.66,97,2.68,99,2.5,99,2.55,99];
const dNonePile2=[2.62,24,2.72,25,2.8,24,2.88,24,2.96,23.5,3.05,24,3.12,25,3.2,25,2.55,21,2.64,20,2.7,21,2.8,20.5,2.87,21,2.95,20,3.02,20.5,3.1,20.5,3.18,20.5,3.26,20.5,3.33,21,2.47,17.5,2.55,18,2.62,18,2.7,18,2.78,18.5,2.87,18,2.94,17.5,3.02,17.5,3.1,17.5,3.2,17.5,3.28,18,3.38,17.5,3.44,17,2.4,14.5,2.5,15,2.6,15,2.68,15,2.78,15,2.87,15,2.97,14.5,3.05,14.5,3.12,14.5,3.2,15,3.28,15,3.36,14.5,3.44,15,3.5,13,2.37,12,2.43,12,2.52,12.5,2.6,12,2.68,12,2.76,12,2.85,12,2.94,12,3.02,12,3.1,12,3.18,12,3.26,12,3.34,12,3.42,12,3.5,12.5,3.56,10,2.33,9,2.42,9.5,2.52,9.5,2.62,9,2.7,9.5,2.8,9.5,2.87,9,2.96,9,3.03,9.5,3.12,9.5,3.2,9,3.28,9,3.36,9,3.44,9,3.52,9,3.6,9.5,2.3,6,2.45,7,2.6,7.5,2.75,6.5,2.86,6.5,2.95,6,3.02,6,3.12,6,3.22,6,3.32,6,3.42,6,3.52,6,3.6,6,3.68,6.5,3.72,7,2.2,3,2.4,4,2.6,4,2.8,4,3,3.5,3.12,3.5,3.25,3.5,3.38,3,3.5,3,3.62,3,3.72,3,3.8,4,3.87,3.5,2.52,33,2.6,35,2.66,30,2.74,34,2.8,35,2.86,35,2.92,35,2.98,33,3.04,32,3.08,30,2.62,40,2.7,40,2.78,40,2.85,44,2.92,46,2.98,42,3.02,40,2.6,45,2.7,47,2.65,52,2.72,55,2.78,50,2.85,50,2.9,53,2.6,55,2.68,58,2.76,60,2.84,57,2.58,59,2.64,64,2.7,67,2.76,64];
const dBh=[.3,100,1,100,1.3,100,2.05,90.5,1.37,87,1.78,72,1.45,64,.7,60,2.05,61.5,1.2,56,2.07,54.5,1.7,50,.78,50,2.12,45,1.15,43,.7,40,1.92,41.5,1.82,39,1.12,38,1.2,37.5,1.3,35,2.32,36.5,.78,33.5,2.08,30,2.08,31,1.82,27,2.45,27,1.28,26.5,1.6,22,1.67,23,.7,20,1.2,19,1.3,20,1.28,17,2.08,20,2.17,20,1.82,17.5,2.4,18.5,2.68,14,2.53,15,2.52,14,2.32,15,1.13,15,1.15,14,1.18,13,1.2,12,1,11,.95,11,1.3,10,1.45,10,1.6,15,1.6,12.5,1.65,15,1.72,16,1.78,12,1.88,15,1.92,16,1.8,13,1.7,11,1.55,9.5,1.72,9,1.9,8,2.05,8,2.2,9,2.33,11,2.45,10,1.5,6,1.7,6,1.85,5,2,5,2.15,6,2.25,5,2.4,7,2.55,6,2.65,8,2.78,7,2.9,8,3.05,7,3.2,6,1.62,4,1.8,3,1.95,3,2.1,3,2.3,3,2.45,2.5,2.6,3,2.75,3,2.9,3,3.05,2.5,3.2,3,3.35,3,3.5,2,3.65,1.5,3.8,1,3.95,1,2.2,1,2.4,1,2.7,.5,3,1,3.3,1,3.6,.5];
const dBhMass=[1.55,7,1.62,8,1.68,5,1.75,7,1.82,5.5,1.88,9,1.92,6,1.98,7,2.03,4.5,2.08,6.5,2.13,4,2.18,7,2.22,5,2.28,4,2.32,7,2.37,5,2.42,3.5,2.48,7.5,2.52,5,2.58,7,2.62,4,2.66,6,2.72,8,2.76,4.5,2.82,7,2.88,5,2.92,7.5,2.98,4,3.02,6,3.08,3.5,3.15,5,3.22,3.5,3.3,3,3.4,4,3.5,3.5,3.55,2,3.65,2.5,3.75,1.5,3.85,1.5,3.92,1.2];
const dBonf=[0,100,.48,100,.78,83,.3,50,.84,57,.48,33.5,.6,25,.84,14,.95,20];
const dPerm=[.6,100,.48,66.7,.6,50,.84,28.5,.95,22,1.05,33.5,1,17.5,1.03,18,.78,17,.9,12.5,1.08,9,1.2,8,1.3,7,1.4,9,1.5,7,1.58,5,1.66,6,1.78,6,1.88,7,1.95,5,2.12,3,2.3,4,2.4,2,2.55,4,2.7,4.5,2.8,3,2.95,3,3.1,4,3.25,3,3.4,3.5,3.55,3,3.65,2.5,3.72,3,3.8,3.2,3.85,2.5,3.88,3,3.92,2.5,3.95,2,3.98,1.5,3.98,.8,3.9,1.5,3.8,1.5,3.7,1.5,3.6,1.5,3.5,1,3.4,1.5,3.3,1.5,3.2,1.5,3.1,1.5,3,1.5,2.9,1.5,2.8,1,2.7,1.5,2.6,1.5,2.5,1,2.4,1,2.3,1.5,2.2,2,2.05,2,1.9,3,1.8,3,1.7,3,1.6,2.5];
const dPermMass=[1.12,8,1.18,6,1.25,7,1.35,6,1.45,6,1.55,4,1.62,3,1.7,4,1.85,4.5,2,3.5,2.1,4.5,2.2,3,2.28,5,2.38,3,2.45,5,2.5,2.5,2.6,4.5,2.65,2.5,2.75,5,2.85,4,2.92,4.5,3,4,3.05,3,3.15,5,3.2,2,3.3,4.5,3.35,2,3.45,4.5,3.52,4,3.6,4,3.68,3.5,3.75,3.5,3.78,2.5,3.82,3.5,3.86,3.8,3.9,3.2,3.94,3,3.97,2];
const dZeroBonf=[0,.3,.48,.6,.7,.78,.84,.9,.95,1,1.05,1.1,1.15,1.2,1.25,1.3,1.35,1.4,1.45,1.5,1.55,1.6,1.65,1.7,1.75,1.8,1.85,1.9,1.95,2,2.05,2.1,2.15,2.2,2.25,2.3,2.35,2.4,2.45,2.5,2.55,2.6,2.65,2.7,2.75,2.8,2.85,2.9,2.95,3,3.05,3.1,3.15,3.2,3.25,3.3,3.35,3.4,3.45,3.5,3.55,3.6];
const dZeroPerm=[.3,.48,.6,.84,.95,1.08];
const dLineX=[.604,.8,.984,1.21,1.43,1.66,1.88,2.24,2.55,2.77,3,3.22,3.44,3.67,3.98];
const dNoneL=[69,65.3,61.9,57.6,53,48.5,45,39,31,22,14.4,9.5,5.5,3,1.5];
const dNoneHi=[82.4,75.5,69,62.5,56.5,51.3,46.3,40,32,23,15.2,10.2,6.2,3.8,3];
const dNoneLo=[55,54.2,53.5,51.5,49,46,43,38,30,21,13.6,8.8,4.8,2.2,.2];
const dLowX=[0,.18,.31,.45,.63,.72,.98,1.34,1.66,1.88,2.1,2.77,3.22,3.67,3.98];
const dBhL=[19.2,17.8,16.6,15.4,13.8,13.1,11,8.5,6,5,4,2.6,1.8,.8,-.2];
const dBhHi=[20.8,19,17.6,16.2,14.4,13.6,11.5,9,6.5,5.5,4.5,3.1,2.3,1.8,5];
const dBhLo=[17.7,16.6,15.6,14.6,13.2,12.6,10.5,8,5.5,4.5,3.5,2.1,1.3,-.2,-3];
const dBfL=[14.2,10.5,8.3,5.5,3.3,2.6,1,.3,.1,.05,0,0,0,0,0];
const dBfHi=[15.2,11.2,8.9,6,3.8,3,1.4,.7,.5,.4,.4,.4,.4,.4,.8];
const dBfLo=[13.2,9.8,7.7,5,2.8,2.2,.6,-.1,-.3,-.3,-.4,-.4,-.4,-.4,-.8];
const dPmL=[14,11.8,10.5,9,7.5,6.8,4.5,3,2.2,1.8,1.5,1.1,1,.95,.9];
const dPmHi=[15.2,12.6,11.2,9.6,8,7.2,5,3.5,2.6,2.2,1.9,1.4,1.3,1.2,1.7];
const dPmLo=[12.8,11,9.8,8.4,7,6.4,4,2.5,1.8,1.4,1.1,.8,.7,.7,.1];
// ---------- Panel E
const eNone=[2.5,100,3.1,100,3.6,100,3.75,100,3.95,100,4.05,100,4.2,100,4.3,100,4.4,100,4.5,100,4.6,100,4.75,100,4.85,100,4.95,100,5.05,100,5.15,100,5.3,100,5.4,100,5.65,100,5.9,100,6,100,6.2,100,6.3,100,6.4,100,6.45,100,7.3,99,7.05,98,8.4,99,9.3,97,9.4,96.5,10.15,100,7.45,95,8.3,92,8.45,91,8.8,92,9.9,91,9.95,91.5,9.85,89,10.5,90.5,8.8,87,7.85,85,2.2,86,2.35,81,1.85,77,2.55,98,2.6,97,3.1,93,3.15,92,3.25,87,3.7,94.5,3.9,94,3.85,89,4.1,96.5,4.2,98,4.3,97,4.5,98,4.6,95,4.45,92,4.55,93,4.65,94,4.8,93,4.9,92,4.95,95,5.05,93,5.15,94,5.2,96,5.3,95,5.4,95,5.6,94,4.45,89,4.55,89,4.7,91,4.85,89,5,90,5.1,88,5.2,89,5.3,90,5.5,91,5.65,91,5.85,88,5.9,92,6.05,97,6.15,97,6.4,94,6.2,89,6.5,87,3.71,71.8,3.95,78.5,4,76.5,4.1,68.8,3.75,65.6,4.43,65.7,4.13,61.6,4.76,70.2,4.66,75.7,4.89,74.7,4.64,80.5,4.79,84,4.92,80.8,5.03,85.5,5.08,84,5.27,80.8,5.4,78.4,5.3,77.4,5.19,73.6,5.67,73.8,5.78,72.4,5.84,75,6.02,76.6,5.65,79.8,5.98,80.8,5.54,85.5,5.76,83.6,5.98,83.6,6.03,84.6,4.16,85.3,4.41,89.4,4.49,89,5.44,66.9,5.73,61.9,5.78,65,6.02,69.3,6,66.9,6.08,65.9,6.27,75,6.16,72.2,6.21,70.4,6.4,70,6.57,72.6,6.59,76.3,6.75,80.8,6.84,82.7,7.24,78.9,6.97,73.6,7.13,72.2,7.02,70.7,7.02,68.3,7.18,66.2,6.61,68.8,6.73,68.3,6.48,66.4,6.52,64,6.32,62.1,6.16,62.1,6.02,60.2,6.1,60.7,5.71,59.2,5.37,59.7,5.16,58.3,5.1,57.1,5.35,56.8,5.4,56.3,5.65,57.3,5.54,54.3,5.76,53.7,5.78,51.1,5.73,49.5,5.13,49.2,4.49,53,3.16,57.1,6.1,50.1,6.41,53.3,6.48,51.6,6.65,54.2,6.7,62.1,6.75,58.8,6.91,62.8,6.97,51.6,7.16,63,7.27,63.3,7.4,60.4,7.49,60.7,7.62,62.3,7.78,62.1,7.56,59.2,7.62,56.6,7.78,57.8,7.08,56.8,7.24,56.8,7.31,52.1,7.45,53.5,7.62,53.5,7.72,66.9,7.94,74.4,8.08,73.8,8.21,72.4,8.26,79,8.64,77.6,8.35,68.5,8.46,68.3,8.42,62.8,8.24,61.1,8.59,60.4,8.78,64.7,8.86,66.6,8.93,66.4,9,62.4,9.16,62.4,9,58.6,9.77,60,8.8,56.4,8.8,53.5,8.86,51.6,8.96,52.1,9.12,53.7,8.91,47.8,8.37,52.1,8.21,51.1,8.05,51.6,7.94,49.7,7.83,49.2,7.72,48.2,7.56,48.2,7.51,46.8,7.24,47.3,7.1,46.8,6.77,47.3,6.84,46.3,6.77,43.6,6.86,43.2,6.54,41.5,6.27,38.7,7.13,41.2,7.42,39.1,7.7,40.5,7.83,40.9,7.94,44.9,8.1,45.4,8.16,45.8,8.37,46.8,8.69,46.3,8.3,43,8.35,39.6,8.05,38.7,8.63,37.7,7.83,35.8,8.21,35.3,8.42,33.4,8.61,32.4,8.21,31.5,9,41.5,8.89,40.1,9,38.2,9,36.5,9.4,45.4,9.51,45.4,9.88,43.4,9.45,40.1,9.51,38.2,9.72,41,9.93,39.1,10.15,39.6,10.26,41,10.48,41,9.27,35.8,9.51,33.4,9.61,35.3,9.88,34.4,9.99,35.3,10.15,32.9,10.42,36.3,9.18,31.5,9.27,32.4,9.35,29.1,9.64,27.5,10.12,25.9,10.48,28.8,10.2,50.8,10.4,50.9,10.26,47,10.1,78.4,9.13,23.3,9.5,24.3,10.04,21,9.93,19,9.93,16.6,9.93,14.3,10.42,19,10.42,15.7,9.56,12.8,10.22,11.2,9.13,14.3,8.97,16.6,8.86,15.7,8.75,19,8.56,16.6,8.59,13.8,8.32,16.2,8.35,11.2,8.46,9.5,8.37,21.9,8.26,25.3,8.12,24.8,7.89,22.9,7.67,19.8,7.86,18.3,8.13,18.1,7.7,28.3,7.48,27.7,7.08,25.1,6.83,16.4,6.68,30.5,6.48,30,5.98,32.4,5.44,27.2,5.16,23.1,4.89,21.7,4.53,21.9,4.4,26.2,5.8,23.3,5.54,20.5,5.84,18.6,6.14,20,6.43,12.5,6.41,9,5.81,13.5,5.62,11.2,5.57,9.2,3.55,20,3.39,28.9,3.19,36,4.38,42.3,5.16,42.5,5.37,40.9,9.9,7,10.3,5.7,9.2,7];
const eBh=[.57,100,.28,100,.12,100,1.33,90.3,.25,87,.73,72.2,.29,66.9,.3,64.3,1.79,61.8,.08,59.9,.23,56.3,1.39,54.3,.33,50,.98,50,1.88,45.5,.35,43,.09,40,.15,38.4,1.09,41.5,.46,37.5,1.9,39.4,1.63,35,2.57,36.9,2.17,31,1.39,27.2,.46,26.2,3.75,26.7,2.44,25,.56,23.3,.85,21.7,.09,20,.33,20,.47,20,.67,19.5,2.23,20.2,2.79,20,4.81,19.2,.98,17.4,1.09,16.1,1.5,16.4,4.27,17.3,3.73,15,1.63,13.5,6.3,15.7,5.73,14,8.01,15.4,2.44,12.3,3.14,12.3,3.25,11.4,3.76,10.6,4.27,11.4,4.22,10,6.95,10.2,8.19,9,.5,16.5,.3,14,.1,13,.05,11,.35,11,.6,13,.75,10,.95,12.7,1.15,13,1.3,11,1.45,9,1.6,7,.45,9,.7,7.5,.95,6,1.15,8,1.3,7.5,1.5,6.8,1.8,5,2,4.5,2.3,5.5,2.6,8,2.85,8,3,8.5,3.2,6,3.45,7,3.65,5,4,7,4.1,6.5,4.45,6.8,4.6,4,4.85,3,5.1,7.6,5.3,4,5.55,6.5,5.75,5.8,5.9,5.6,6.1,7,6.3,3.5,6.55,4.5,6.9,7.5,7.05,4,7.3,3,7.55,3.5,7.95,6.2,8.1,6.5,8.2,4,8.45,5.8,8.6,5,8.85,4.5,9.05,7.6,9.2,5.5,9.45,5.2,9.55,5.2,9.95,4,10.1,5,10.45,6,1.05,3,1.8,2.5,2.4,3,3,2,3.7,2.5,4.3,2,5,2,5.9,1.5,6.7,1.8,7.5,2,8.3,2,9,2.5,9.7,2,10.3,2];
const eBhMass=[.15,22,.2,19,.3,17,.4,14,.5,12,.55,9,.62,16,.7,13,.8,10,.85,13,1.1,11,1.2,9,1.25,7,1.4,8.5,1.55,4,1.7,3.5,1.95,7,2.1,8,2.2,5,2.35,4,2.5,5.5,2.7,4,2.95,5,3.1,4,3.3,3.5,3.5,5,3.85,4.5,4.15,5,4.4,3.5,4.7,3,5,3,5.5,3,6.1,3.5,6.8,3,7.2,2.8,7.9,3.5,8.5,3,9.3,3.5,10,3.5];
const eBonf=[.06,100,.01,100,.08,83.4,.1,57,.05,50,.05,33.4,.07,25,.08,16.6,.08,14.3,.13,9,.23,7.6,.37,3.7,.2,5.5,.5,3.5,.8,2,1,1.5];
const ePerm=[.06,66.9,.06,50,.53,33.4,.12,28.6,.23,28.6,.06,25,.15,22.2,.2,18.1,.13,17,.41,16.6,.12,12.3,2.84,12.5,3.17,12.5,3.98,12.5,.52,11.4,.25,8,.15,6,.3,4.5,.4,9,.5,6,.6,8.5,.7,4.2,.8,7.5,.9,2.8,1,6,1.1,8,1.2,3.5,1.3,5.5,1.4,7,1.5,3,1.6,5,1.7,2.5,1.85,4.5,2,2.5,2.1,3.8,2.4,2.8,2.7,3,2.95,2,3.1,3.5,3.4,6.5,3.5,3.5,3.7,3,3.95,6.5,4.1,3,4.3,7,4.5,3.2,4.75,3.2,5,6,5,3.5,5.3,2.5,5.6,2,5.85,3.5,6.1,3.2,6.3,6.3,6.65,2.8,6.75,5.2,7.15,3.2,7.45,6.2,7.6,2,7.95,3,8.3,2,8.6,3,8.95,2.5,9.1,5.6,9.5,2,9.75,4.5,10,4.5,10.2,4,10.4,3.5,1.2,1.5,2.5,1.5,3.3,1.3,4.2,1.5,5,1.5,6,1.5,7,1.5,8,1.5,9,1.5,10,1.5];
const ePermMass=[.1,9,.2,10,.3,6,.35,8,.45,7,.55,5,.65,7,.7,9,.75,5,.85,6,.9,8,.95,4,1.05,7,1.1,5,1.15,4.5,1.25,6.5,1.35,4,1.4,5,1.5,4.5,1.55,6,1.65,3.5,1.75,4,1.8,5.5,1.9,3,1.95,4,2.1,5,2.15,3,2.25,4,2.35,3,2.45,2.5,2.55,3.5,2.65,2.5,2.75,3.5,2.85,2.5,3.05,2.5,3.2,2.5,3.3,3.5,3.6,2.5,3.8,3,3.9,2.5,4.2,2,4.4,2.5,4.6,2,4.85,2,5.1,2,5.4,1.8,5.7,2,6,2,6.3,2,6.6,2,6.9,2,7.2,2,7.5,2.5,7.8,2,8.1,2,8.4,2,8.7,2,9,2,9.3,2,9.6,2,9.9,2.5,10.2,2.5];
const eZeroBonf=[0,.1,.2,.3,.45,.6,.75,.9,1.05,1.2,1.35,1.5,1.65,1.8,1.95,2.1,2.25,2.4,2.55,2.7,2.85,3,3.15,3.3,3.45,3.6,3.75,3.9,4.05,4.2,4.35,4.5,4.65,4.8,4.95,5.1,5.25,5.4,5.55,5.7,5.85,6,6.15,6.3,6.45,6.6,6.75,6.9,7.05,7.2,7.35,7.5,7.65,7.8,7.95,8.1,8.25,8.4,8.55,8.7,8.85,9,9.15,9.3,9.45,9.6,9.75,9.9,10.05,10.2,10.35,10.5];
const eZeroPerm=[0,.03];
const eLineX=[1.79,2.55,3.09,3.95,4.7,5.24,6,6.65,7.6,8.37,9.13,9.88,10.5];
const eNoneL=[105,99.4,93.7,86,79.3,74,66.9,62,53.5,48.7,43.9,38.7,35.3];
const eNoneHi=[107,101.2,95.5,87.7,80.6,75,67.9,63,54.5,49.9,45.3,40.3,37.3];
const eNoneLo=[103,97.6,92,84.5,78,73,65.9,61,52.5,47.5,42.5,37.1,33.3];
const eBhX=[.0,.71,1.47,2.33,3.41,4.49,5.35,6.43,7.72,10.5];
const eBhL=[15.7,12.3,10.4,7.6,5.2,3.7,2.6,2.3,2.6,3.2];
const eBhHi=[17,13,11,8.2,5.7,4.2,3.1,2.8,3.1,3.9];
const eBhLo=[14.4,11.6,9.8,7,4.7,3.2,2.1,1.8,2.1,2.5];
const ePmX=[0,.71,1.47,2.33,3.41,4.49,5.57,7.72,10.5];
const ePmL=[8,6.6,4.7,3.3,2,1.3,1,1.3,2];
const ePmHi=[9,7.1,5.1,3.7,2.4,1.7,1.4,1.7,2.5];
const ePmLo=[7,6.1,4.3,2.9,1.6,.9,.6,.9,1.5];
const eBfX=[.05,.28,.71,1.25,2.3,10.5];
const eBfL=[9,5.6,2.3,.4,.1,0];
const eBfHi=[9.8,6.2,2.9,1,.6,.5];
const eBfLo=[8.2,5,1.7,-.2,-.4,-.5];
// ---------- axes
const aXTicks=[5,10,15,20], aYTicks=[0,5,10,15,20,25];
const bXTicks=[0,2,4,6,8], bYTicks=[0,5,10,15];
const cXTicks=[0,.5,1,1.5,2], cYTicks=[0,10,20,30,40,50];
const dXTicks=[0,1,2,3,4], dYTicks=[0,25,50,75,100];
const eXTicks=[0,2,4,6,8,10], eYTicks=[0,25,50,75,100];
const xTitles=['N = Nc + Nt','\u0394N = | Nc \u2212 Nt |','Typical Effect','log10(Total Hits)','Total Hits / m (%)'];
const panels=['A','B','C','D','E'];

const FONT='"Liberation Sans",Arial,sans-serif';
const pairs=a=>{const o=[];for(let i=0;i<a.length;i+=2)o.push([a[i],a[i+1]]);return o;};
const cols=(xs,l)=>l.flatMap((ys,i)=>ys.map(y=>[xs[i],y]));
const row=(xs,y)=>xs.map(x=>[x,y]);

const rects=[[100,4,591,386.7],[711.3,4.7,1203,388],[1321.5,2,1815,386.7],[153.5,494,790.5,877.3],[1208.75,494,1845.6,877]];
const xr=[[3.208,20.8],[-.388,8.4],[-.1,2.097],[-.197,4.18],[-.496,10.49]];
const yr=[[-1.25,26.2],[-.74,15.73],[-2.49,52.5],[-8.48,105.1],[-4.97,105]];
const xt=[aXTicks,bXTicks,cXTicks,dXTicks,eXTicks], yt=[aYTicks,bYTicks,cYTicks,dYTicks,eYTicks];
const yNameGap=[46,47,46,62,61];
const grid=rects.map(r=>({left:r[0],top:r[1],width:r[2]-r[0],height:r[3]-r[1],containLabel:false}));
const axisBase=()=>({type:'value',splitLine:{show:false},axisLine:{onZero:false,show:true,lineStyle:{color:'#000',width:2.5}},
  nameTextStyle:{color:'#000',fontFamily:FONT,fontSize:31}});
const xAxis=rects.map((r,i)=>Object.assign(axisBase(),{gridIndex:i,min:xr[i][0],max:xr[i][1],position:'bottom',name:xTitles[i],nameLocation:'middle',nameGap:38,
  axisTick:{show:true,length:5,customValues:xt[i],lineStyle:{color:'#000',width:2}},
  axisLabel:{customValues:xt[i],color:'#000',fontFamily:FONT,fontSize:25.5,margin:10,formatter:v=>i===2?v.toFixed(1):String(v)}}));
const yAxis=rects.map((r,i)=>Object.assign(axisBase(),{gridIndex:i,min:yr[i][0],max:yr[i][1],position:'left',name:'FDP (%)',nameLocation:'middle',nameGap:yNameGap[i],
  axisTick:{show:true,length:5,customValues:yt[i],lineStyle:{color:'#000',width:2}},
  axisLabel:{customValues:yt[i],color:'#000',fontFamily:FONT,fontSize:25.5,margin:10}}));

const series=[];
const S=11;
const pts=(g,m,data,op,size)=>series.push({type:'scatter',name:methods[m]+' points',xAxisIndex:g,yAxisIndex:g,data,symbolSize:size||S,silent:true,z:1,progressive:0,
  itemStyle:{color:colors[m],opacity:op},animation:false});
const band=(g,xs,lo,hi)=>series.push({type:'custom',name:'ci',xAxisIndex:g,yAxisIndex:g,clip:true,silent:true,z:2,animation:false,
  data:xs.map((x,k)=>[x,lo[k],hi[k]]),encode:{x:0,y:[1,2]},
  renderItem:(p,api)=>{ if(p.dataIndex!==0) return; const up=xs.map((x,k)=>api.coord([x,hi[k]])); const dn=xs.map((x,k)=>api.coord([x,lo[k]])).reverse();
    return {type:'polygon',shape:{points:up.concat(dn)},style:{fill:'rgba(153,153,153,0.42)'}};}});
const line=(g,m,xs,ys)=>series.push({type:'line',name:methods[m],xAxisIndex:g,yAxisIndex:g,data:xs.map((x,k)=>[x,ys[k]]),showSymbol:false,smooth:.35,silent:true,z:3,
  itemStyle:{color:colors[m]},lineStyle:{color:colors[m],width:5,cap:'butt'},animation:false});

// A
const F=.2,D=.55,L=.42;
pts(0,0,cols(aX,aNoneSparse),F);pts(0,1,cols(aX,aBhSparse),F);pts(0,3,cols(aX,aPermSparse),F);pts(0,2,cols(aX,aBonfSparse),F);
pts(0,0,cols(aX,aNoneDense),D);pts(0,0,cols(aX,aNoneFill),L);pts(0,1,cols(aX,aBhDense),D);pts(0,1,cols(aX,aBhFill),L);pts(0,3,cols(aX,aPermDense),D);pts(0,3,cols(aX,aPermFill),L);pts(0,2,cols(aX,aBonfDense),D);
// B
pts(1,0,cols(bX,bNoneSparse),F);pts(1,1,cols(bX,bBhSparse),F);pts(1,3,cols(bX,bPermSparse),F);pts(1,2,cols(bX,bBonfSparse),F);
pts(1,0,cols(bX,bNoneFill),L);pts(1,0,cols(bX,bNoneDense),D);pts(1,1,cols(bX,bBhDense),D);pts(1,1,cols(bX,bBhFill),L);pts(1,3,cols(bX,bPermDense),D);pts(1,3,cols(bX,bPermFill),L);pts(1,2,cols(bX,bBonfDense),D);
// C
pts(2,0,pairs(cNone),.25);pts(2,0,pairs(cNoneMass),.3);pts(2,1,pairs(cBh),.25);pts(2,1,pairs(cBhMass),.3);pts(2,1,row(cZeroBh,0),.25);pts(2,3,pairs(cPerm),.25);pts(2,3,pairs(cPermMass),.3);pts(2,3,row(cZeroPerm,0),.4);pts(2,2,pairs(cBonf),.25);pts(2,2,pairs(cBonfMass),.3);pts(2,2,row(cZeroBonf,0),.7);
// D
pts(3,0,pairs(dNone),.8);pts(3,0,pairs(dNonePile),.8);pts(3,0,pairs(dNonePile2),.8);pts(3,1,pairs(dBh),.85);pts(3,1,pairs(dBhMass),.85);pts(3,3,pairs(dPerm),.85);pts(3,3,pairs(dPermMass),.85);pts(3,3,row(dZeroPerm,0),.8);pts(3,2,pairs(dBonf),.8);pts(3,2,row(dZeroBonf,0),.9);
// E
pts(4,0,pairs(eNone),1,10.5);pts(4,1,pairs(eBh),1,10.5);pts(4,1,pairs(eBhMass),1,10.5);pts(4,3,pairs(ePerm),1,10.5);pts(4,3,pairs(ePermMass),1,10.5);pts(4,3,row(eZeroPerm,0),1,10.5);pts(4,2,pairs(eBonf),1,10.5);pts(4,2,row(eZeroBonf,0),1,10.5);
// bands + fitted lines
band(0,aLineX,aNoneLo,aNoneHi);band(0,aLineX,aBhLo,aBhHi);band(0,aLineX,aBfLo,aBfHi);band(0,aLineX,aPmLo,aPmHi);
line(0,0,aLineX,aNoneL);line(0,1,aLineX,aBhL);line(0,2,aLineX,aBfL);line(0,3,aLineX,aPmL);
band(1,bLineX,bNoneLo,bNoneHi);band(1,bLineX,bBhLo,bBhHi);band(1,bLineX,bBfLo,bBfHi);band(1,bLineX,bPmLo,bPmHi);
line(1,0,bLineX,bNoneL);line(1,1,bLineX,bBhL);line(1,2,bLineX,bBfL);line(1,3,bLineX,bPmL);
band(2,cLineX,cNoneLo,cNoneHi);band(2,cBhX,cBhLo,cBhHi);band(2,cBhX,cBfLo,cBfHi);band(2,cPmX,cPmLo,cPmHi);
line(2,0,cLineX,cNoneL);line(2,1,cBhX,cBhL);line(2,2,cBhX,cBfL);line(2,3,cPmX,cPmL);
band(3,dLineX,dNoneLo,dNoneHi);band(3,dLowX,dBhLo,dBhHi);band(3,dLowX,dBfLo,dBfHi);band(3,dLowX,dPmLo,dPmHi);
line(3,0,dLineX,dNoneL);line(3,1,dLowX,dBhL);line(3,2,dLowX,dBfL);line(3,3,dLowX,dPmL);
band(4,eLineX,eNoneLo,eNoneHi);band(4,eBhX,eBhLo,eBhHi);band(4,eBfX,eBfLo,eBfHi);band(4,ePmX,ePmLo,ePmHi);
line(4,0,eLineX,eNoneL);line(4,1,eBhX,eBhL);line(4,2,eBfX,eBfL);line(4,3,ePmX,ePmL);

// legends
const legendAt=(left,top,w,pad)=>({show:true,orient:'vertical',left,top,itemWidth:w,itemHeight:5,itemGap:18.3,icon:'rect',selectedMode:false,align:'left',data:methods,
  itemStyle:{opacity:1},lineStyle:{width:0},
  textStyle:{color:'#000',fontFamily:FONT,fontSize:19,lineHeight:20,padding:[0,0,0,pad]}});
const legend=[legendAt(1855.5,141,31.5,11),legendAt(831,633,31,6),legendAt(1886,633,31,6)];
const keyBox=(x,y,w,h,rows,dot,op)=>[{type:'rect',silent:true,z:0,shape:{x,y,width:w,height:h},style:{fill:'#D4D4D4'}}].concat(rows.map((cy,i)=>({type:'circle',silent:true,z:1,shape:{cx:x+w/2,cy,r:dot},style:{fill:colors[i],opacity:op}})));
const ttl=(x,y)=>({type:'text',silent:true,x,y,style:{text:'Correction',fill:'#000',font:'24px "Liberation Sans"',textAlign:'left',textVerticalAlign:'middle'}});
const graphic=[...keyBox(1852,135,38,153,[154,192.5,231,269],5,.25),ttl(1852,112),
  ...keyBox(827.6,626.7,38.4,153.3,[646,684.7,723,761],5,.8),ttl(827.6,604),
  ...keyBox(1882.5,626.7,37.5,153.3,[646,684.7,723,761],5,.8),ttl(1882.5,604)];
const letterPos=[[2,3],[622,3],[1222,3],[24,500],[1085,500]];
const title=panels.map((t,i)=>({text:t,left:letterPos[i][0],top:letterPos[i][1],padding:0,textStyle:{color:'#000',fontFamily:FONT,fontSize:38,fontWeight:'bold',lineHeight:38}}));

const chart=echarts.init(document.getElementById('c'),null,{renderer:'canvas',width:2040,height:951});
chart.setOption({animation:false,backgroundColor:'#fff',title,grid,xAxis,yAxis,series,legend,graphic,tooltip:{show:false}});
</script>
</body></html>
